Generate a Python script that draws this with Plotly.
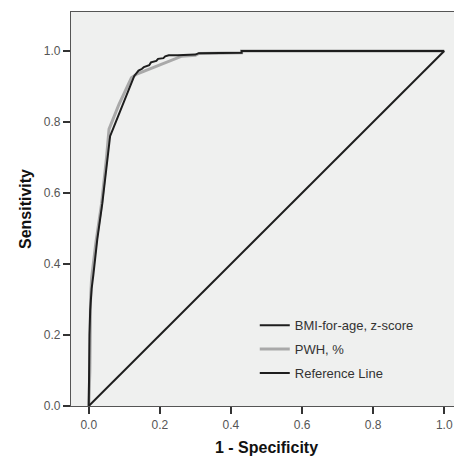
import plotly.graph_objects as go

# BMI-for-age, z-score ROC curve (1 - specificity, sensitivity)
bmi_fpr = [0.0, 0.0, 0.002, 0.004, 0.008, 0.013, 0.024, 0.038, 0.050, 0.060, 0.070, 0.088, 0.103, 0.118,
           0.128, 0.14, 0.15, 0.155, 0.17, 0.175, 0.19, 0.195, 0.21, 0.215, 0.225, 0.25, 0.30, 0.31, 0.43, 0.43, 1.0]
bmi_tpr = [0.0, 0.10, 0.20, 0.27, 0.33, 0.37, 0.47, 0.57, 0.68, 0.76, 0.785, 0.83, 0.87, 0.905,
           0.93, 0.945, 0.95, 0.955, 0.96, 0.968, 0.972, 0.978, 0.98, 0.985, 0.988, 0.988, 0.990, 0.994, 0.995, 1.0, 1.0]

# PWH, % ROC curve
pwh_fpr = [0.0, 0.003, 0.005, 0.008, 0.02, 0.036, 0.05, 0.057, 0.085, 0.12, 0.135, 0.26, 0.30, 0.31, 0.43, 0.43, 1.0]
pwh_tpr = [0.0, 0.10, 0.30, 0.36, 0.46, 0.57, 0.70, 0.78, 0.85, 0.925, 0.935, 0.985, 0.988, 0.993, 0.995, 1.0, 1.0]

# Reference line
ref_x = [0.0, 1.0]
ref_y = [0.0, 1.0]

tick_vals = [0.0, 0.2, 0.4, 0.6, 0.8, 1.0]
tick_text = ["0.0", "0.2", "0.4", "0.6", "0.8", "1.0"]

FONT = "Liberation Sans, Arial, sans-serif"

fig = go.Figure()
fig.add_trace(go.Scatter(x=pwh_fpr, y=pwh_tpr, mode="lines", name="PWH, %",
                         line=dict(color="#a9a9a9", width=3), legendgroup="b", legendrank=2))
fig.add_trace(go.Scatter(x=bmi_fpr, y=bmi_tpr, mode="lines", name="BMI-for-age, z-score",
                         line=dict(color="#1e1e1e", width=2), legendgroup="a", legendrank=1))
fig.add_trace(go.Scatter(x=ref_x, y=ref_y, mode="lines", name="Reference Line",
                         line=dict(color="#1e1e1e", width=2), legendgroup="c", legendrank=3))

axis_common = dict(
    showgrid=False, zeroline=False, showline=True, linecolor="#555555", linewidth=1.2,
    mirror=True, ticks="outside", ticklen=7, tickwidth=2, tickcolor="#333333",
    tickvals=tick_vals, ticktext=tick_text, automargin=False,
    tickfont=dict(family=FONT, size=12, color="#555555"),
)

fig.update_layout(
    width=454, height=453,
    margin=dict(l=63, r=0, t=4, b=55),
    paper_bgcolor="white", plot_bgcolor="#eff0ef",
    xaxis=dict(range=[-0.05, 1.05], **axis_common,
               title=dict(text="<b>1 - Specificity</b>", standoff=11,
                          font=dict(family=FONT, size=16, color="#111111"))),
    yaxis=dict(range=[0, 1.11], **axis_common,
               title=dict(text="<b>Sensitivity</b>", standoff=8,
                          font=dict(family=FONT, size=16, color="#111111"))),
    legend=dict(x=0.47, y=0.243, xanchor="left", yanchor="top",
                bgcolor="rgba(0,0,0,0)", traceorder="grouped", tracegroupgap=4,
                font=dict(family=FONT, size=13, color="#333333")),
    showlegend=True,
)

fig.write_html("out.html")
